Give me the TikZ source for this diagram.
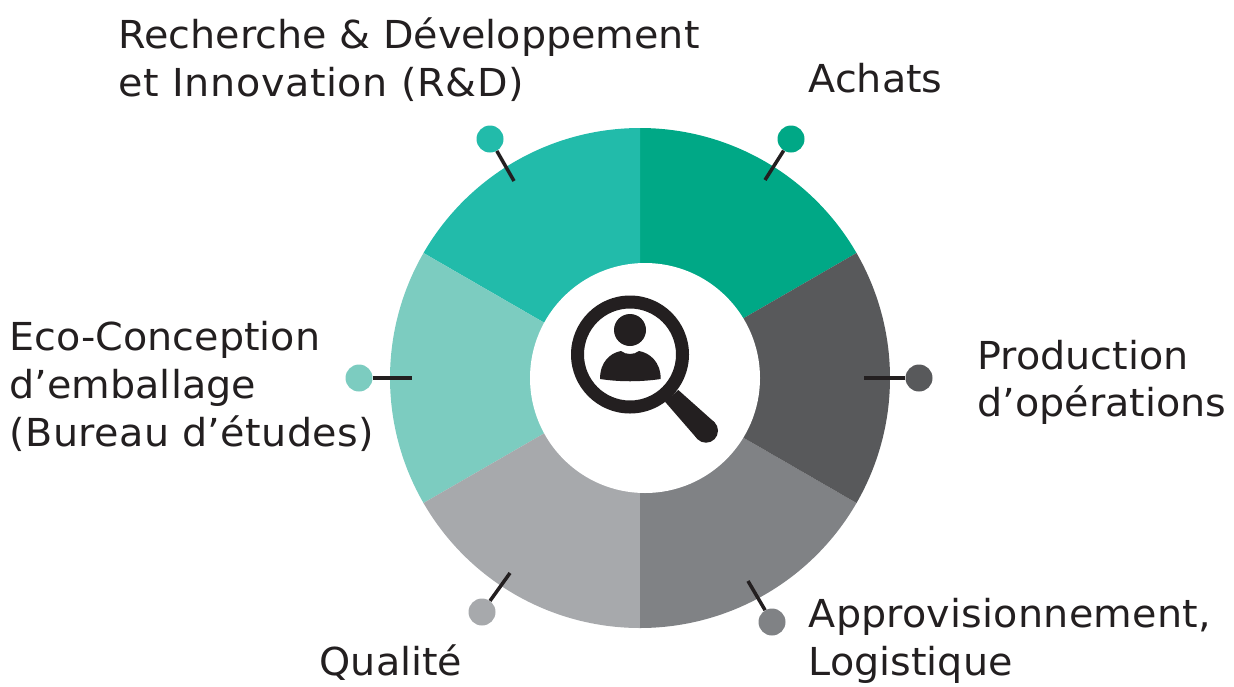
\documentclass[tikz,border=0pt]{standalone}
\usepackage{fontspec}
\setmainfont[FakeStretch=1.03]{DejaVu Sans}
\definecolor{cA}{HTML}{00A886}
\definecolor{cR}{HTML}{22BBAA}
\definecolor{cE}{HTML}{7CCCC0}
\definecolor{cQ}{HTML}{A7A9AC}
\definecolor{cL}{HTML}{808285}
\definecolor{cP}{HTML}{58595B}
\definecolor{ink}{HTML}{231F20}
\tikzset{
  lab/.style={anchor=base west,inner sep=0pt,text=ink,font=\fontsize{38.5}{48}\selectfont},
  dot/.style={circle,inner sep=0pt,minimum size=27pt},
  stem/.style={draw=ink,line width=3.5pt}
}
\newcommand{\sect}[3]{\fill[#1] (640,-378) ++(#2:250pt) arc[start angle=#2,end angle=#3,radius=250pt] -- (640,-378) -- cycle;}
\begin{document}
\begin{tikzpicture}[x=1pt,y=1pt]
\useasboundingbox (0,0) rectangle (1234,-686);
\sect{cA}{30}{90}
\sect{cR}{90}{150}
\sect{cE}{150}{210}
\sect{cQ}{210}{270}
\sect{cL}{270}{330}
\sect{cP}{330}{390}
\fill[white] (645,-378) circle[radius=115pt];
% magnifier
\fill[ink,even odd rule] (630,-354.5) circle[radius=59pt] (630,-354.5) circle[radius=46pt];
\fill[ink] (665,-401.7) -- (678.3,-390) -- (714.5,-422.3) -- (697.5,-439.1) -- cycle;
\fill[ink] (706,-430.7) circle[radius=12pt];
\fill[ink] (630,-330) circle[radius=16pt];
\fill[ink] (600,-379) .. controls (600,-362) and (610,-353) .. (621,-351) .. controls (626,-355) and (634,-355) .. (639,-351) .. controls (650,-353) and (660.7,-362) .. (660.7,-379) .. controls (640,-382) and (620,-382) .. (600,-379) -- cycle;
% connectors
\node[dot,fill=cR] (dR) at (490,-139) {};
\node[dot,fill=cA] (dA) at (791,-139) {};
\node[dot,fill=cP] (dP) at (919,-378) {};
\node[dot,fill=cL] (dL) at (772,-622) {};
\node[dot,fill=cQ] (dQ) at (482,-612) {};
\node[dot,fill=cE] (dE) at (359,-378) {};
\coordinate (eR) at (514,-181);
\coordinate (eA) at (765,-180);
\coordinate (eP) at (864,-378);
\coordinate (eL) at (748,-581);
\coordinate (eQ) at (510,-573);
\coordinate (eE) at (412,-378);
\draw[stem] (dR) -- (eR);
\draw[stem] (dA) -- (eA);
\draw[stem] (dP) -- (eP);
\draw[stem] (dL) -- (eL);
\draw[stem] (dQ) -- (eQ);
\draw[stem] (dE) -- (eE);
% labels
\node[lab] (t1) at (118.5,-48) {Recherche \& Développement};
\node[lab] (t2) at (118.5,-96) {\addfontfeature{LetterSpace=1.6}et Innovation (R\&D)};
\node[lab] (t3) at (808.5,-92) {Achats};
\node[lab] (t4) at (977.5,-369) {Production};
\node[lab] (t5) at (977.5,-416) {d’opérations};
\node[lab] (t6) at (808.5,-627) {\addfontfeature{LetterSpace=0.55}Approvisionnement,};
\node[lab] (t7) at (808.5,-675) {Logistique};
\node[lab] (t8) at (319.5,-675) {Qualité};
\node[lab] (t9) at (9.5,-350) {Eco-Conception};
\node[lab] (t10) at (9.5,-398) {d’emballage};
\node[lab] (t11) at (9.5,-446) {\addfontfeature{LetterSpace=1.05}(Bureau d’études)};
\end{tikzpicture}
\end{document}
